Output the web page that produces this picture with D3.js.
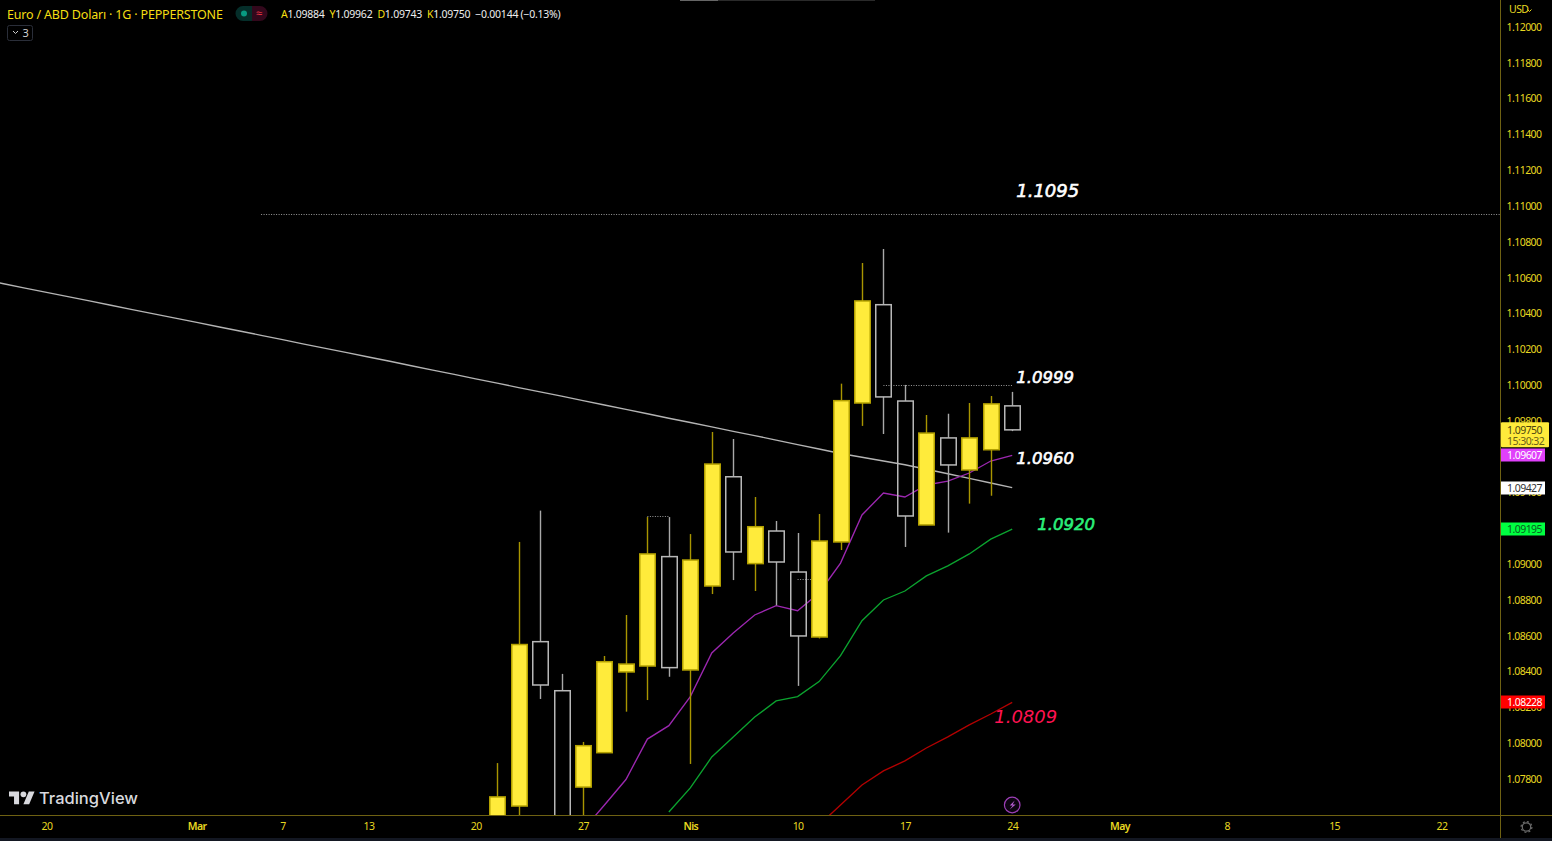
<!DOCTYPE html>
<html>
<head>
<meta charset="utf-8">
<script src="https://cdn.jsdelivr.net/npm/d3@7"></script>
<style>
html, body { margin: 0; padding: 0; background: #000; overflow: hidden; }
text { font-family: "Noto Sans", sans-serif; }
.small { font-size: 10.5px; letter-spacing: -0.55px; }
.note { font-family: "DejaVu Sans", sans-serif; font-style: italic; }
</style>
</head>
<body>
<div id="chart"></div>
<script>
// bars are counted in trading days from 20 Feb (bar 0)
var firstCandle = 21;
var opens  = [1.07515, 1.07649, 1.08567, 1.08293, 1.07755, 1.07947, 1.08398, 1.08431, 1.09042, 1.08409, 1.08878, 1.09488, 1.09003, 1.09185, 1.08956, 1.08593, 1.09124, 1.09900, 1.10449, 1.09911, 1.09219, 1.09705, 1.09526, 1.09639, 1.09884];
var highs  = [1.07889, 1.09124, 1.09299, 1.08387, 1.08007, 1.08487, 1.08716, 1.09263, 1.09263, 1.09168, 1.09738, 1.09699, 1.09375, 1.09241, 1.09174, 1.09280, 1.10008, 1.10682, 1.10760, 1.10001, 1.09833, 1.09840, 1.09900, 1.09939, 1.09962];
var lows   = [1.07459, 1.07515, 1.08247, 1.07404, 1.07515, 1.07947, 1.08176, 1.08241, 1.08371, 1.07884, 1.08833, 1.08911, 1.08850, 1.08770, 1.08320, 1.08585, 1.09079, 1.09772, 1.09727, 1.09096, 1.09219, 1.09176, 1.09338, 1.09382, 1.09743];
var closes = [1.07700, 1.08551, 1.08325, 1.07515, 1.07986, 1.08455, 1.08442, 1.09057, 1.08422, 1.09023, 1.09559, 1.09068, 1.09209, 1.09012, 1.08599, 1.09129, 1.09913, 1.10470, 1.09934, 1.09269, 1.09732, 1.09554, 1.09705, 1.09895, 1.09750];

var whiteStart = -3;
var whiteLine = [1.10590, 1.10566, 1.10542, 1.10518, 1.10494, 1.10470, 1.10446, 1.10422, 1.10398, 1.10374, 1.10350, 1.10326, 1.10302, 1.10278, 1.10254, 1.10229, 1.10205, 1.10181, 1.10157, 1.10133, 1.10108, 1.10084, 1.10060, 1.10035, 1.10011, 1.09986, 1.09962, 1.09938, 1.09913, 1.09889, 1.09864, 1.09840, 1.09815, 1.09791, 1.09767, 1.09742, 1.09718, 1.09693, 1.09668, 1.09643, 1.09618, 1.09597, 1.09576, 1.09555, 1.09530, 1.09505, 1.09479, 1.09453, 1.09427];
var purpleStart = 25;
var purpleLine = [1.07515, 1.07655, 1.07797, 1.08023, 1.08098, 1.08260, 1.08504, 1.08615, 1.08716, 1.08768, 1.08740, 1.08839, 1.09006, 1.09275, 1.09397, 1.09375, 1.09442, 1.09464, 1.09509, 1.09576, 1.09607];
var greenStart = 29;
var greenLine = [1.07616, 1.07750, 1.07923, 1.08035, 1.08146, 1.08236, 1.08260, 1.08344, 1.08489, 1.08684, 1.08800, 1.08850, 1.08934, 1.08990, 1.09057, 1.09140, 1.09195];
var redStart = 36;
var redLine = [1.07543, 1.07655, 1.07767, 1.07845, 1.07901, 1.07973, 1.08035, 1.08102, 1.08163, 1.08228];

var priceTicks = [1.078, 1.080, 1.082, 1.084, 1.086, 1.088, 1.090, 1.092, 1.094, 1.096, 1.098, 1.100, 1.102, 1.104, 1.106, 1.108, 1.110, 1.112, 1.114, 1.116, 1.118, 1.120];
var timeTickBars = [0, 7, 11, 15, 20, 25, 30, 35, 40, 45, 50, 55, 60, 65];
var timeTickLabels = ["20", "Mar", "7", "13", "20", "27", "Nis", "10", "17", "24", "May", "8", "15", "22"];

var W = 1552, H = 841, plotW = 1500, plotH = 815;
var YELLOW = "#ffeb3b", AXISTXT = "#e8d820", AXISLINE = "#6e6112";

var x = d3.scaleLinear().domain([-2.167, 67.73]).range([0, plotW]);
var y = d3.scaleLinear().domain([1.078, 1.12]).range([779, 27]);

var svg = d3.select("#chart").append("svg")
    .attr("width", W).attr("height", H)
    .style("display", "block").style("background", "#000");

svg.append("clipPath").attr("id", "plot").append("rect")
    .attr("width", plotW).attr("height", plotH);

var plot = svg.append("g").attr("clip-path", "url(#plot)");

// dotted levels
function level(b0, b1, p) {
    plot.append("line")
        .attr("x1", x(b0)).attr("x2", x(b1))
        .attr("y1", Math.round(y(p)) - 0.5).attr("y2", Math.round(y(p)) - 0.5)
        .attr("stroke", "#9a9a9a").attr("stroke-width", 1)
        .attr("stroke-dasharray", "1,1.5");
}
level(10, 68, 1.1095);
level(39, 45, 1.09993);
level(28, 29, 1.09263);
level(35, 36, 1.08910);

// moving averages, under the candles
function avg(values, start, color) {
    var line = d3.line().x(function(d, i) { return x(start + i); }).y(function(d) { return y(d); });
    plot.append("path").datum(values)
        .attr("fill", "none").attr("stroke", color).attr("stroke-width", 1.35)
        .attr("d", line);
}
avg(whiteLine, whiteStart, "#b4b4b4");
avg(purpleLine, purpleStart, "#9c27b0");
avg(greenLine, greenStart, "#0ba32f");
avg(redLine, redStart, "#b30000");

// candles
var bodyW = 15.5;
var candles = plot.append("g").selectAll("g")
    .data(opens)
    .enter().append("g");

function barX(d, i) { return Math.round(x(firstCandle + i)) + 0.5; }
function wickColor(d, i) { return closes[i] >= opens[i] ? "#a89500" : "#a8a8a8"; }

// two wick pieces, the hollow bodies stay empty
candles.append("line")
    .attr("x1", barX).attr("x2", barX)
    .attr("y1", function(d, i) { return y(highs[i]); })
    .attr("y2", function(d, i) { return y(Math.max(opens[i], closes[i])); })
    .attr("stroke", wickColor).attr("stroke-width", 1.4);
candles.append("line")
    .attr("x1", barX).attr("x2", barX)
    .attr("y1", function(d, i) { return y(Math.min(opens[i], closes[i])); })
    .attr("y2", function(d, i) { return y(lows[i]); })
    .attr("stroke", wickColor).attr("stroke-width", 1.4);

candles.append("rect")
    .attr("x", function(d, i) { return barX(d, i) - bodyW / 2; })
    .attr("width", bodyW)
    .attr("y", function(d, i) { return y(Math.max(opens[i], closes[i])); })
    .attr("height", function(d, i) { return Math.abs(y(opens[i]) - y(closes[i])); })
    .attr("fill", function(d, i) { return closes[i] >= opens[i] ? YELLOW : "none"; })
    .attr("stroke", function(d, i) { return closes[i] >= opens[i] ? "#b3a000" : "#b8b8b8"; })
    .attr("stroke-width", 1.5);

// hand written levels next to the last candle
function note(txt, bar, p, dx, dy, color, size, heavy) {
    plot.append("text").attr("class", "note")
        .attr("x", x(bar) + dx).attr("y", y(p) + dy)
        .attr("fill", color).style("font-size", size + "px")
        .attr("stroke", heavy ? color : "none").attr("stroke-width", 0.6)
        .text(txt);
}
note("1.1095", 45, 1.1095, 4, -18, "#ffffff", 18, true);
note("1.0999", 45, 1.0999, 4, -4, "#ffffff", 16.5, true);
note("1.0960", 45, 1.0960, 4, 7, "#ffffff", 16.5, true);
note("1.0920", 45, 1.0920, 25, 2, "#2bf07a", 16.5, true);
note("1.0809", 45, 1.0809, -18, -4, "#ff1250", 18, false);

// axes
var yAxis = svg.append("g")
    .attr("transform", "translate(" + (plotW + 0.5) + ",0)")
    .call(d3.axisRight(y).tickValues(priceTicks).tickFormat(d3.format(".5f")).tickSize(0).tickPadding(6));
yAxis.select(".domain").remove();
yAxis.selectAll("text").attr("class", "small").attr("fill", AXISTXT).style("font-family", "'Noto Sans', sans-serif");

var xAxis = svg.append("g")
    .attr("transform", "translate(0," + (plotH + 0.5) + ")")
    .call(d3.axisBottom(x).tickValues(timeTickBars).tickFormat(function(d, i) { return timeTickLabels[i]; }).tickSize(0).tickPadding(7));
xAxis.select(".domain").remove();
xAxis.selectAll("text").attr("class", "small").attr("fill", AXISTXT).style("font-family", "'Noto Sans', sans-serif")
    .style("font-weight", function(d, i) { return isNaN(+timeTickLabels[i]) ? "600" : "400"; });

svg.append("line").attr("x1", 0).attr("x2", W).attr("y1", plotH + 0.5).attr("y2", plotH + 0.5).attr("stroke", AXISLINE);
svg.append("line").attr("x1", plotW + 0.5).attr("x2", plotW + 0.5).attr("y1", 0).attr("y2", 838).attr("stroke", AXISLINE);
svg.append("rect").attr("y", 838).attr("width", W).attr("height", 3).attr("fill", "#131722");

// last value tags
var tagValues = [1.09607, 1.09427, 1.09195, 1.08228];
var tagFill = ["#e040fb", "#ffffff", "#00ff41", "#ff0000"];
var tagText = ["#ffffff", "#333333", "#0a5a20", "#ffffff"];
tagValues.forEach(function(v, i) {
    svg.append("rect").attr("x", plotW + 1).attr("y", Math.round(y(v)) - 6.5).attr("width", 44).attr("height", 13).attr("fill", tagFill[i]);
    svg.append("text").attr("class", "small").attr("x", plotW + 7).attr("y", y(v) + 4).attr("fill", tagText[i]).text(d3.format(".5f")(v));
});
svg.append("rect").attr("x", plotW + 1).attr("y", y(closes[24]) - 7.5).attr("width", 48).attr("height", 25).attr("rx", 1).attr("fill", YELLOW);
svg.append("text").attr("class", "small").attr("x", plotW + 7).attr("y", y(closes[24]) + 4).attr("fill", "#4a4410").text(d3.format(".5f")(closes[24]));
svg.append("text").attr("class", "small").attr("x", plotW + 7).attr("y", y(closes[24]) + 15).attr("fill", "#6a6018").text("15:30:32");

svg.append("text").attr("class", "small").attr("x", 1509).attr("y", 13).attr("fill", AXISTXT).text("USD");
svg.append("path").attr("d", "M1527.5 9.5l2 2 2-2").attr("fill", "none").attr("stroke", AXISTXT);

// header
svg.append("rect").attr("x", 680).attr("width", 195).attr("height", 1).attr("fill", "#2a2a2a");
svg.append("rect").attr("x", 680).attr("width", 38).attr("height", 1).attr("fill", "#666");
svg.append("text").attr("x", 7).attr("y", 18.5).attr("fill", "#f5df12").style("font-size", "12.5px").style("letter-spacing", "-0.18px")
    .text("Euro / ABD Dolar\u0131 \u00b7 1G \u00b7 PEPPERSTONE");
svg.append("path").attr("d", "M252 6h-9a7.5 7.5 0 0 0 0 15h9z").attr("fill", "#052e2a");
svg.append("path").attr("d", "M252 6h8a7.5 7.5 0 0 1 0 15h-8z").attr("fill", "#33081c");
svg.append("circle").attr("cx", 244).attr("cy", 13.5).attr("r", 3).attr("fill", "#089981");
svg.append("text").attr("x", 259).attr("y", 17).attr("text-anchor", "middle").attr("fill", "#f23645").style("font-size", "11px").text("\u2248");

var ohlcNames = ["A", "Y", "D", "K"];
var ohlcVals = [opens[24], highs[24], lows[24], closes[24]];
var ohlc = svg.append("text").attr("x", 281).attr("y", 18).style("font-size", "10.5px").style("letter-spacing", "-0.25px");
ohlcNames.forEach(function(n, i) {
    ohlc.append("tspan").attr("fill", "#f5df12").attr("dx", i ? 5 : 0).text(n);
    ohlc.append("tspan").attr("fill", "#eeeeee").text(d3.format(".5f")(ohlcVals[i]));
});
ohlc.append("tspan").attr("fill", "#eeeeee").attr("dx", 5).text("\u22120.00144 (\u22120.13%)");

svg.append("rect").attr("x", 7.5).attr("y", 25.5).attr("width", 25).attr("height", 15).attr("rx", 2).attr("fill", "none").attr("stroke", "#2a2e39");
svg.append("path").attr("d", "M13 31l2.5 2.5 2.5-2.5").attr("fill", "none").attr("stroke", "#cfcfcf");
svg.append("text").attr("x", 22.5).attr("y", 36.5).attr("fill", "#cfcfcf").style("font-size", "11px").text("3");

// TradingView mark
var logo = svg.append("g").attr("transform", "translate(9,788.5) scale(0.72)").attr("fill", "#d8d9de");
logo.append("path").attr("d", "M14 22H7V11H0V4h14v18zM28 22h-8l7.5-18h8L28 22z");
logo.append("circle").attr("cx", 20).attr("cy", 8).attr("r", 4);
svg.append("text").attr("x", 39).attr("y", 804).attr("fill", "#d8d9de").style("font-size", "16.5px").style("font-weight", "500")
    .style("font-family", "Inter, sans-serif").text("TradingView");

// lightning marker
svg.append("circle").attr("cx", x(45)).attr("cy", 805).attr("r", 7.8).attr("fill", "#0c0410").attr("stroke", "#9c3fb5").attr("stroke-width", 1.2);
svg.append("path").attr("d", "M" + (x(45) + 2.5) + " 800.5l-5 5h3l-3 4 6-5h-3l2-4z").attr("fill", "#b45ccf");

// settings gear
svg.append("circle").attr("cx", 1526.5).attr("cy", 827).attr("r", 4.2).attr("fill", "none").attr("stroke", "#6b6b6b").attr("stroke-width", 1.2);
svg.append("circle").attr("cx", 1526.5).attr("cy", 827).attr("r", 5.4).attr("fill", "none").attr("stroke", "#6b6b6b").attr("stroke-width", 1.2).attr("stroke-dasharray", "2,2.2");
</script>
</body>
</html>
